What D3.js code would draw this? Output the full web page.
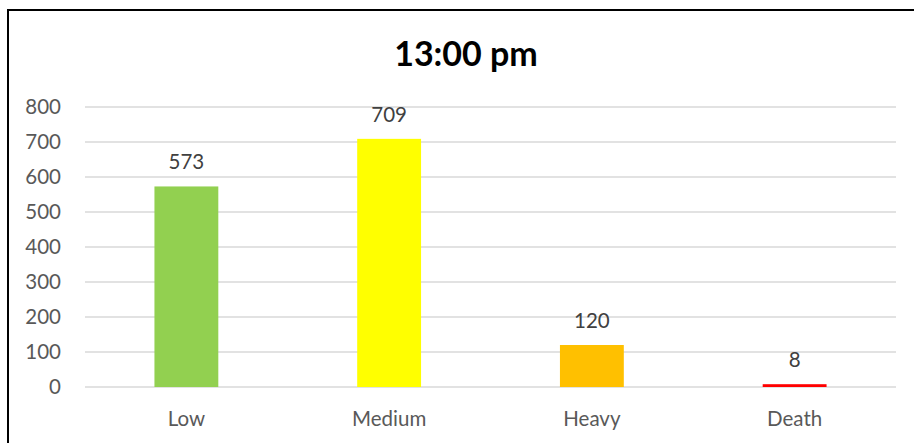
<!DOCTYPE html>
<html>
<head>
<meta charset="utf-8">
<script src="https://cdn.jsdelivr.net/npm/d3@7"></script>
<style>
  html, body { margin: 0; padding: 0; background: #fff; }
  svg { display: block; }
</style>
</head>
<body>
<script>
// Casualty counts by severity at 13:00
const categories = ["Low", "Medium", "Heavy", "Death"];
const values = [573, 709, 120, 8];
const barColors = ["#92d050", "#ffff00", "#ffc000", "#ff0000"];
const yTicks = [0, 100, 200, 300, 400, 500, 600, 700, 800];
const title = "13:00 pm";

const W = 914, H = 443;
const plot = { left: 85, right: 896, top: 107, bottom: 387 };
const font = "Lato, 'Open Sans', sans-serif";

const svg = d3.select("body").append("svg")
  .attr("width", W).attr("height", H);

// chart frame
svg.append("rect")
  .attr("x", 8).attr("y", 10)
  .attr("width", W + 10).attr("height", H + 10)
  .attr("fill", "#fff").attr("stroke", "#000").attr("stroke-width", 2);

const x = d3.scaleBand().domain(categories)
  .range([plot.left, plot.right]).paddingInner(0.685).paddingOuter(0.3425);
const y = d3.scaleLinear().domain([0, 800]).range([plot.bottom, plot.top]);

// horizontal gridlines
svg.append("g").selectAll("line").data(yTicks).join("line")
  .attr("x1", plot.left).attr("x2", plot.right)
  .attr("y1", d => y(d)).attr("y2", d => y(d))
  .attr("stroke", "#d9d9d9").attr("stroke-width", 1.5);

// y axis labels
const yAxis = d3.axisLeft(y).tickValues(yTicks).tickSize(0).tickPadding(0);
const gy = svg.append("g").attr("transform", "translate(61,0)").call(yAxis);
gy.select(".domain").remove();
gy.selectAll("text")
  .attr("fill", "#595959").style("font-family", font).style("font-size", "20.5px");

// x axis labels
const xAxis = d3.axisBottom(x).tickSize(0).tickPadding(0);
const gx = svg.append("g").attr("transform", "translate(0,411)").call(xAxis);
gx.select(".domain").remove();
gx.selectAll("text")
  .attr("fill", "#595959").style("font-family", font).style("font-size", "20.5px");

// bars
svg.append("g").selectAll("rect").data(values).join("rect")
  .attr("x", (d, i) => x(categories[i]))
  .attr("width", x.bandwidth())
  .attr("y", d => y(d))
  .attr("height", d => y(0) - y(d))
  .attr("fill", (d, i) => barColors[i]);

// value labels
svg.append("g").selectAll("text").data(values).join("text")
  .attr("x", (d, i) => x(categories[i]) + x.bandwidth() / 2)
  .attr("y", d => y(d) - 17)
  .attr("text-anchor", "middle")
  .attr("fill", "#404040")
  .style("font-family", font).style("font-size", "20.5px")
  .text(d => d);

// title
svg.append("text")
  .attr("x", 466).attr("y", 66)
  .attr("text-anchor", "middle")
  .attr("fill", "#000")
  .style("font-family", font).style("font-size", "34px").style("font-weight", "bold")
  .text(title);
</script>
</body>
</html>
